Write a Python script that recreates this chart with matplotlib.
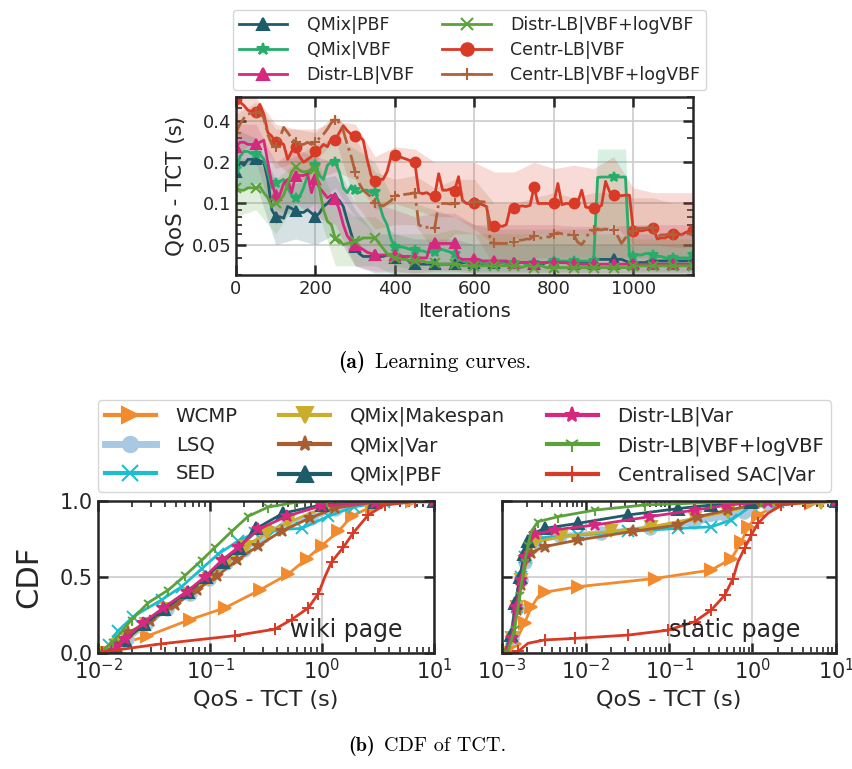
import numpy as np
import matplotlib
matplotlib.use("Agg")
import matplotlib.pyplot as plt
from matplotlib.lines import Line2D
from matplotlib.ticker import NullFormatter, LogLocator, FixedLocator

# ---------------- data: learning curves ----------------
IT = list(range(0, 1151, 10))
BAND_IT = list(range(0, 1151, 50))

QMIX_PBF = [0.17, 0.2, 0.19, 0.21, 0.21, 0.21, 0.205, 0.2, 0.15, 0.09,
            0.08, 0.08, 0.078, 0.095, 0.092, 0.088, 0.086, 0.086, 0.09, 0.085,
            0.08, 0.085, 0.095, 0.1, 0.108, 0.11, 0.105, 0.095, 0.075, 0.06,
            0.048, 0.043, 0.041, 0.041, 0.041, 0.042, 0.041, 0.041, 0.042, 0.042,
            0.04, 0.04, 0.04, 0.039, 0.037, 0.036, 0.036, 0.036, 0.036, 0.036,
            0.036, 0.036, 0.036, 0.036, 0.036, 0.036, 0.037, 0.037, 0.037, 0.037,
            0.037, 0.037, 0.036, 0.036, 0.036, 0.037, 0.037, 0.037, 0.037, 0.037,
            0.037, 0.037, 0.037, 0.037, 0.036, 0.036, 0.036, 0.036, 0.037, 0.037,
            0.037, 0.037, 0.037, 0.037, 0.037, 0.037, 0.037, 0.037, 0.037, 0.038,
            0.038, 0.039, 0.039, 0.039, 0.039, 0.039, 0.039, 0.039, 0.038, 0.037,
            0.037, 0.037, 0.037, 0.037, 0.038, 0.038, 0.038, 0.038, 0.038, 0.038,
            0.038, 0.038, 0.038, 0.038, 0.038, 0.038]
QMIX_VBF = [0.18, 0.22, 0.24, 0.24, 0.23, 0.23, 0.23, 0.21, 0.17, 0.13,
            0.14, 0.145, 0.15, 0.13, 0.115, 0.11, 0.112, 0.13, 0.16, 0.18,
            0.19, 0.16, 0.15, 0.19, 0.2, 0.2, 0.17, 0.13, 0.12, 0.135,
            0.125, 0.12, 0.125, 0.125, 0.12, 0.122, 0.1, 0.08, 0.07, 0.055,
            0.048, 0.048, 0.048, 0.047, 0.046, 0.046, 0.045, 0.045, 0.044, 0.044,
            0.044, 0.046, 0.046, 0.045, 0.044, 0.043, 0.039, 0.038, 0.037, 0.037,
            0.036, 0.036, 0.037, 0.036, 0.036, 0.036, 0.037, 0.037, 0.036, 0.036,
            0.037, 0.037, 0.037, 0.036, 0.037, 0.037, 0.037, 0.037, 0.037, 0.038,
            0.038, 0.038, 0.038, 0.038, 0.038, 0.038, 0.038, 0.038, 0.038, 0.038,
            0.038, 0.155, 0.156, 0.156, 0.156, 0.157, 0.156, 0.156, 0.156, 0.041,
            0.041, 0.042, 0.042, 0.043, 0.043, 0.042, 0.041, 0.041, 0.040, 0.040,
            0.040, 0.040, 0.040, 0.040, 0.040, 0.042]
DISTR_VBF = [0.26, 0.28, 0.28, 0.27, 0.27, 0.27, 0.28, 0.29, 0.2, 0.14,
             0.115, 0.115, 0.14, 0.15, 0.12, 0.16, 0.16, 0.16, 0.165, 0.12,
             0.15, 0.13, 0.12, 0.11, 0.115, 0.108, 0.09, 0.07, 0.058, 0.053,
             0.05, 0.048, 0.046, 0.044, 0.043, 0.042, 0.042, 0.042, 0.042, 0.042,
             0.042, 0.042, 0.041, 0.041, 0.041, 0.04, 0.04, 0.04, 0.04, 0.051,
             0.051, 0.051, 0.051, 0.051, 0.051, 0.051, 0.04, 0.039, 0.039, 0.039,
             0.039, 0.039, 0.038, 0.038, 0.038, 0.038, 0.038, 0.038, 0.038, 0.037,
             0.037, 0.037, 0.037, 0.037, 0.037, 0.037, 0.037, 0.037, 0.037, 0.037,
             0.037, 0.037, 0.037, 0.037, 0.036, 0.036, 0.036, 0.036, 0.036, 0.036,
             0.036, 0.036, 0.036, 0.036, 0.036, 0.036, 0.036, 0.036, 0.036, 0.036,
             0.036, 0.036, 0.036, 0.036, 0.036, 0.036, 0.036, 0.036, 0.036, 0.036,
             0.036, 0.036, 0.036, 0.036, 0.036, 0.036]
DISTR_LOG = [0.13, 0.125, 0.125, 0.13, 0.13, 0.13, 0.133, 0.12, 0.11, 0.095,
             0.1, 0.105, 0.115, 0.14, 0.17, 0.185, 0.175, 0.17, 0.172, 0.178,
             0.18, 0.13, 0.09, 0.074, 0.07, 0.055, 0.054, 0.05, 0.051, 0.052,
             0.053, 0.054, 0.056, 0.056, 0.056, 0.056, 0.051, 0.047, 0.043, 0.041,
             0.04, 0.04, 0.039, 0.039, 0.038, 0.038, 0.038, 0.038, 0.037, 0.037,
             0.037, 0.036, 0.036, 0.036, 0.036, 0.036, 0.036, 0.035, 0.035, 0.035,
             0.035, 0.035, 0.035, 0.035, 0.035, 0.035, 0.035, 0.035, 0.035, 0.035,
             0.035, 0.035, 0.034, 0.035, 0.035, 0.034, 0.035, 0.035, 0.034, 0.034,
             0.034, 0.034, 0.034, 0.034, 0.034, 0.034, 0.034, 0.034, 0.034, 0.034,
             0.034, 0.034, 0.034, 0.034, 0.034, 0.034, 0.034, 0.034, 0.034, 0.034,
             0.035, 0.035, 0.035, 0.035, 0.035, 0.035, 0.035, 0.035, 0.035, 0.035,
             0.035, 0.035, 0.035, 0.035, 0.035, 0.035]
CENTR_VBF = [0.58, 0.55, 0.52, 0.48, 0.47, 0.47, 0.53, 0.45, 0.33, 0.31,
             0.28, 0.28, 0.27, 0.21, 0.24, 0.26, 0.22, 0.20, 0.21, 0.22,
             0.24, 0.25, 0.27, 0.26, 0.30, 0.29, 0.33, 0.37, 0.34, 0.32,
             0.31, 0.31, 0.29, 0.21, 0.16, 0.145, 0.15, 0.15, 0.17, 0.22,
             0.225, 0.22, 0.215, 0.21, 0.205, 0.20, 0.12, 0.118, 0.12, 0.115,
             0.114, 0.165, 0.125, 0.125, 0.128, 0.124, 0.157, 0.105, 0.10, 0.10,
             0.10, 0.10, 0.098, 0.095, 0.07, 0.068, 0.069, 0.068, 0.07, 0.092,
             0.092, 0.095, 0.096, 0.095, 0.097, 0.132, 0.10, 0.10, 0.10, 0.10,
             0.101, 0.14, 0.098, 0.10, 0.10, 0.101, 0.102, 0.125, 0.094, 0.093,
             0.093, 0.093, 0.097, 0.145, 0.122, 0.116, 0.114, 0.114, 0.115, 0.115,
             0.063, 0.064, 0.063, 0.064, 0.065, 0.066, 0.055, 0.056, 0.056, 0.058,
             0.06, 0.061, 0.059, 0.061, 0.063, 0.064]
CENTR_LOG = [0.33, 0.38, 0.42, 0.45, 0.46, 0.46, 0.47, 0.42, 0.32, 0.27,
             0.26, 0.30, 0.36, 0.33, 0.30, 0.28, 0.27, 0.27, 0.28, 0.27,
             0.28, 0.30, 0.32, 0.35, 0.39, 0.41, 0.39, 0.34, 0.27, 0.22,
             0.17, 0.14, 0.125, 0.118, 0.112, 0.10, 0.098, 0.096, 0.10, 0.105,
             0.114, 0.115, 0.116, 0.117, 0.118, 0.12, 0.07, 0.067, 0.067, 0.067,
             0.066, 0.10, 0.10, 0.10, 0.099, 0.10, 0.10, 0.106, 0.10, 0.102,
             0.103, 0.103, 0.103, 0.102, 0.052, 0.051, 0.051, 0.051, 0.051, 0.052,
             0.052, 0.054, 0.054, 0.055, 0.055, 0.058, 0.056, 0.056, 0.057, 0.057,
             0.06, 0.061, 0.06, 0.059, 0.059, 0.059, 0.052, 0.05, 0.055, 0.063,
             0.064, 0.065, 0.064, 0.065, 0.064, 0.064, 0.058, 0.051, 0.056, 0.06,
             0.063, 0.066, 0.066, 0.066, 0.067, 0.066, 0.057, 0.059, 0.059, 0.06,
             0.059, 0.06, 0.059, 0.06, 0.06, 0.06]

QMIX_PBF_HI = [0.35, 0.3, 0.15, 0.14, 0.15, 0.16, 0.09, 0.06, 0.06, 0.055, 0.055, 0.055,
               0.05, 0.05, 0.05, 0.05, 0.05, 0.05, 0.05, 0.05, 0.05, 0.05, 0.05, 0.05]
QMIX_PBF_LO = [0.12, 0.14, 0.05, 0.055, 0.05, 0.06, 0.035, 0.031, 0.031, 0.031, 0.031, 0.031,
               0.031, 0.031, 0.031, 0.031, 0.031, 0.031, 0.031, 0.031, 0.031, 0.031, 0.031, 0.031]
QMIX_VBF_BAND_IT = [0, 50, 100, 150, 200, 250, 300, 350, 400, 450, 500, 550, 600, 650,
                    700, 750, 800, 850, 900, 910, 980, 990, 1000, 1050, 1100, 1150]
QMIX_VBF_HI = [0.3, 0.3, 0.2, 0.22, 0.27, 0.3, 0.25, 0.2, 0.1, 0.1, 0.09, 0.08, 0.07, 0.065,
               0.065, 0.065, 0.065, 0.065, 0.065, 0.25, 0.25, 0.06, 0.06, 0.06, 0.06, 0.06]
QMIX_VBF_LO = [0.12, 0.14, 0.09, 0.08, 0.1, 0.13, 0.08, 0.06, 0.035, 0.033, 0.033, 0.033, 0.032,
               0.032, 0.032, 0.032, 0.032, 0.032, 0.032, 0.04, 0.04, 0.032, 0.032, 0.032, 0.032, 0.032]
DISTR_VBF_HI = [0.38, 0.38, 0.2, 0.25, 0.22, 0.2, 0.1, 0.1, 0.09, 0.08, 0.085, 0.085,
                0.07, 0.07, 0.07, 0.07, 0.07, 0.068, 0.068, 0.068, 0.07, 0.07, 0.07, 0.07]
DISTR_VBF_LO = [0.18, 0.2, 0.07, 0.1, 0.08, 0.07, 0.035, 0.032, 0.032, 0.031, 0.032, 0.032,
                0.031, 0.031, 0.031, 0.031, 0.031, 0.031, 0.031, 0.031, 0.031, 0.031, 0.031, 0.031]
DISTR_LOG_HI = [0.22, 0.2, 0.15, 0.2, 0.22, 0.1, 0.08, 0.08, 0.06, 0.06, 0.06, 0.065,
                0.06, 0.06, 0.06, 0.06, 0.06, 0.06, 0.06, 0.06, 0.055, 0.055, 0.055, 0.055]
DISTR_LOG_LO = [0.08, 0.09, 0.06, 0.1, 0.1, 0.035, 0.035, 0.035, 0.03, 0.03, 0.03, 0.03,
                0.03, 0.03, 0.03, 0.03, 0.03, 0.03, 0.03, 0.03, 0.03, 0.03, 0.03, 0.03]
CENTR_VBF_HI = [0.6, 0.6, 0.38, 0.35, 0.35, 0.4, 0.38, 0.22, 0.26, 0.25, 0.2, 0.2,
                0.2, 0.17, 0.17, 0.2, 0.18, 0.19, 0.18, 0.22, 0.13, 0.12, 0.12, 0.12]
CENTR_VBF_LO = [0.3, 0.3, 0.2, 0.15, 0.15, 0.17, 0.15, 0.09, 0.1, 0.09, 0.08, 0.08,
                0.065, 0.05, 0.055, 0.06, 0.06, 0.06, 0.06, 0.07, 0.05, 0.05, 0.048, 0.048]
CENTR_LOG_HI = [0.45, 0.55, 0.35, 0.35, 0.33, 0.45, 0.3, 0.17, 0.15, 0.16, 0.13, 0.15,
                0.15, 0.1, 0.1, 0.11, 0.12, 0.11, 0.12, 0.12, 0.11, 0.11, 0.1, 0.1]
CENTR_LOG_LO = [0.22, 0.3, 0.18, 0.2, 0.2, 0.3, 0.1, 0.065, 0.07, 0.07, 0.045, 0.06,
                0.06, 0.035, 0.035, 0.04, 0.04, 0.04, 0.04, 0.04, 0.04, 0.04, 0.04, 0.04]

# ---------------- data: CDFs (wiki page) ----------------
W_WCMP_X = [0.01, 0.0125, 0.0159, 0.0272, 0.0663, 0.136, 0.28, 0.5, 0.73, 0.99, 1.4, 1.84, 2.77, 6.3, 10]
W_WCMP_Y = [0, 0.02, 0.06, 0.11, 0.22, 0.297, 0.415, 0.52, 0.62, 0.705, 0.8, 0.9, 0.963, 0.998, 1]
W_LSQ_X = [0.01, 0.012, 0.015, 0.018, 0.027, 0.041, 0.066, 0.097, 0.14, 0.2, 0.3, 0.5, 0.8, 1.3, 3.0, 10]
W_LSQ_Y = [0, 0.02, 0.06, 0.09, 0.19, 0.29, 0.39, 0.49, 0.59, 0.68, 0.77, 0.86, 0.89, 0.95, 0.995, 1]
W_SED_X = [0.01, 0.0125, 0.0151, 0.0207, 0.037, 0.0559, 0.0843, 0.119, 0.179, 0.252, 0.38, 0.66, 1.14, 1.95, 3.6, 10]
W_SED_Y = [0, 0.05, 0.146, 0.24, 0.35, 0.437, 0.555, 0.652, 0.738, 0.79, 0.81, 0.82, 0.9, 0.963, 0.995, 1]
W_MAKE_X = [0.01, 0.012, 0.015, 0.018, 0.027, 0.041, 0.066, 0.097, 0.14, 0.21, 0.32, 0.5, 1.0, 2.5, 10]
W_MAKE_Y = [0, 0.02, 0.05, 0.09, 0.19, 0.29, 0.39, 0.49, 0.59, 0.7, 0.79, 0.86, 0.95, 0.99, 1]
W_QVAR_X = [0.01, 0.012, 0.0145, 0.0187, 0.029, 0.0487, 0.076, 0.115, 0.173, 0.27, 0.436, 0.78, 1.31, 2.77, 10]
W_QVAR_Y = [0, 0.015, 0.05, 0.135, 0.21, 0.318, 0.415, 0.505, 0.609, 0.705, 0.802, 0.888, 0.953, 0.99, 1]
W_PBF_X = [0.01, 0.012, 0.0145, 0.0175, 0.026, 0.039, 0.063, 0.092, 0.13, 0.18, 0.26, 0.45, 1.0, 3.0, 10]
W_PBF_Y = [0, 0.01, 0.04, 0.085, 0.19, 0.29, 0.40, 0.50, 0.60, 0.69, 0.82, 0.92, 0.975, 0.995, 1]
W_DVAR_X = [0.01, 0.012, 0.0145, 0.0174, 0.0254, 0.0383, 0.0619, 0.0902, 0.127, 0.179, 0.27, 0.484, 1.0, 2.97, 10]
W_DVAR_Y = [0, 0.01, 0.04, 0.092, 0.2, 0.297, 0.404, 0.501, 0.609, 0.695, 0.813, 0.9, 0.97, 0.99, 1]
W_DLOG_X = [0.01, 0.0115, 0.0135, 0.0156, 0.02, 0.028, 0.0425, 0.06, 0.084, 0.111, 0.156, 0.22, 0.33, 0.57, 1.1, 10]
W_DLOG_Y = [0, 0.03, 0.07, 0.125, 0.22, 0.33, 0.415, 0.51, 0.61, 0.695, 0.80, 0.90, 0.96, 0.99, 1.0, 1.0]
W_SAC_X = [0.01, 0.0108, 0.0363, 0.167, 0.38, 0.536, 0.755, 0.927, 1.06, 1.22, 1.55, 1.9, 2.6, 3.65, 6.8, 10]
W_SAC_Y = [0, 0.006, 0.06, 0.114, 0.157, 0.22, 0.297, 0.39, 0.5, 0.6, 0.695, 0.79, 0.91, 0.974, 0.996, 1]

# ---------------- data: CDFs (static page) ----------------
S_WCMP_X = [0.001, 0.00124, 0.00142, 0.00163, 0.00187, 0.00224, 0.0027, 0.00324, 0.0081, 0.0673,
            0.321, 0.558, 0.735, 0.883, 1.16, 2.02, 5.07, 10]
S_WCMP_Y = [0, 0.01, 0.06, 0.13, 0.2, 0.3, 0.37, 0.4, 0.436, 0.49, 0.546, 0.62, 0.73, 0.83, 0.908,
            0.974, 0.99, 1]
S_LSQ_X = [0.001, 0.0011, 0.0013, 0.0015, 0.0017, 0.0019, 0.00215, 0.0025, 0.005, 0.0155, 0.06,
           0.2, 0.5, 0.8, 1.5, 10]
S_LSQ_Y = [0, 0.02, 0.1, 0.3, 0.48, 0.6, 0.68, 0.74, 0.77, 0.79, 0.82, 0.86, 0.9, 0.93, 0.99, 1]
S_SED_X = [0.001, 0.0011, 0.0013, 0.0015, 0.0017, 0.0019, 0.00215, 0.00246, 0.0081, 0.0323, 0.128,
           0.321, 0.558, 0.735, 0.97, 2.02, 10]
S_SED_Y = [0, 0.02, 0.1, 0.3, 0.5, 0.63, 0.72, 0.755, 0.776, 0.8, 0.82, 0.83, 0.875, 0.92, 0.974,
           0.995, 1]
S_MAKE_X = [0.001, 0.0011, 0.0013, 0.0015, 0.0017, 0.0019, 0.00215, 0.00246, 0.00514, 0.0204,
            0.0614, 0.203, 0.509, 1.06, 6.7, 10]
S_MAKE_Y = [0, 0.02, 0.1, 0.3, 0.48, 0.6, 0.68, 0.73, 0.765, 0.8, 0.83, 0.886, 0.93, 0.974, 0.99, 1]
S_QVAR_X = [0.001, 0.0011, 0.0013, 0.0015, 0.0017, 0.0019, 0.0022, 0.00324, 0.0081, 0.0371, 0.128,
            0.222, 0.509, 1.28, 10]
S_QVAR_Y = [0, 0.02, 0.1, 0.28, 0.45, 0.58, 0.66, 0.70, 0.743, 0.8, 0.842, 0.897, 0.94, 0.985, 1]
S_PBF_X = [0.001, 0.0011, 0.00129, 0.00145, 0.00163, 0.00185, 0.00205, 0.00246, 0.00324, 0.0081,
           0.0323, 0.128, 0.321, 0.97, 10]
S_PBF_Y = [0, 0.01, 0.12, 0.33, 0.5, 0.65, 0.74, 0.79, 0.82, 0.853, 0.908, 0.95, 0.974, 0.995, 1]
S_DVAR_X = [0.001, 0.0011, 0.0013, 0.00148, 0.00168, 0.0019, 0.0021, 0.0025, 0.00428, 0.0129,
            0.0586, 0.203, 0.509, 1.53, 10]
S_DVAR_Y = [0, 0.01, 0.1, 0.3, 0.48, 0.63, 0.72, 0.78, 0.81, 0.842, 0.897, 0.94, 0.974, 0.995, 1]
S_DLOG_X = [0.001, 0.00118, 0.00142, 0.00163, 0.00187, 0.00205, 0.00224, 0.0027, 0.0047, 0.0129,
            0.0512, 0.321, 1.28, 10]
S_DLOG_Y = [0, 0.01, 0.16, 0.38, 0.6, 0.71, 0.8, 0.864, 0.897, 0.94, 0.974, 0.99, 1.0, 1.0]
S_SAC_X = [0.001, 0.00125, 0.00156, 0.00205, 0.00324, 0.0074, 0.0323, 0.0973, 0.203, 0.321, 0.465,
           0.585, 0.67, 0.805, 0.97, 1.16, 1.53, 2.22, 4.2, 10]
S_SAC_Y = [0, 0.0, 0.01, 0.064, 0.086, 0.096, 0.118, 0.15, 0.206, 0.283, 0.38, 0.49, 0.6, 0.69,
           0.776, 0.853, 0.919, 0.974, 0.99, 1]

# ---------------- style ----------------
TXT = "#262626"
plt.rcParams.update({
    "font.family": ["DejaVu Sans"],
    "text.color": TXT, "axes.labelcolor": TXT,
    "xtick.color": TXT, "ytick.color": TXT,
    "axes.edgecolor": TXT, "axes.linewidth": 1.8,
})

C_PBF = "#1f5c6b"
C_QVBF = "#27ad6a"
C_MAG = "#d6287f"
C_LOG = "#5ba23a"
C_RED = "#d93a26"
C_BRN = "#b0613a"
C_WCMP = "#f28a2e"
C_LSQ = "#a8c9e1"
C_SED = "#1dbdd0"
C_MAKE = "#c9ad2b"
C_QVAR = "#a85e30"

fig = plt.figure(figsize=(8.53, 7.69), dpi=100)


def style_axes(ax, fs):
    ax.tick_params(which="both", direction="in", top=True, right=True, labelsize=fs)
    ax.tick_params(which="major", length=7, width=1.8)
    ax.tick_params(which="minor", length=4, width=1.2)
    ax.grid(True, which="major", color="#cccccc", lw=1.2)
    ax.set_axisbelow(True)


def caption(xc_px, ybase_px, bold, rest, fs):
    r = fig.canvas.get_renderer()
    y = 1 - ybase_px / 769
    t1 = fig.text(0, y, bold, family="cmb10", fontsize=fs, va="baseline", ha="left", color="black")
    t2 = fig.text(0, y, rest, family="cmr10", fontsize=fs, va="baseline", ha="left", color="black")
    W = fig.bbox.width
    w1 = t1.get_window_extent(r).width / W
    w2 = t2.get_window_extent(r).width / W
    gap = 0.45 * fs * fig.dpi / 72 / W
    x0 = xc_px / 853 - (w1 + gap + w2) / 2
    t1.set_x(x0)
    t2.set_x(x0 + w1 + gap)


# ---------------- top: learning curves ----------------
ax = fig.add_axes([236 / 853, 1 - 275 / 769, 457 / 853, 178 / 769])
ax.set_yscale("log")

series = [
    ("QMix|PBF", QMIX_PBF, BAND_IT, QMIX_PBF_LO, QMIX_PBF_HI, C_PBF, "^", "-"),
    ("QMix|VBF", QMIX_VBF, QMIX_VBF_BAND_IT, QMIX_VBF_LO, QMIX_VBF_HI, C_QVBF, "*", "-"),
    ("Distr-LB|VBF", DISTR_VBF, BAND_IT, DISTR_VBF_LO, DISTR_VBF_HI, C_MAG, "^", "-"),
    ("Distr-LB|VBF+logVBF", DISTR_LOG, BAND_IT, DISTR_LOG_LO, DISTR_LOG_HI, C_LOG, "x", "-"),
    ("Centr-LB|VBF", CENTR_VBF, BAND_IT, CENTR_VBF_LO, CENTR_VBF_HI, C_RED, "o", "-"),
    ("Centr-LB|VBF+logVBF", CENTR_LOG, BAND_IT, CENTR_LOG_LO, CENTR_LOG_HI, C_BRN, "+", "-."),
]
handles = []
for name, vals, bx, lo, hi, col, mk, ls in series:
    ax.fill_between(bx, lo, hi, color=col, alpha=0.18, lw=0)
for name, vals, bx, lo, hi, col, mk, ls in series:
    ax.plot(IT, vals, color=col, lw=2, ls=ls, marker=mk, markevery=5, ms=7, mew=1.5)
    handles.append(Line2D([], [], color=col, lw=2, marker=mk, ms=9, mew=1.5, label=name))

ax.set_xlim(0, 1150)
ax.set_ylim(0.03, 0.6)
ax.set_xticks([0, 200, 400, 600, 800, 1000])
ax.yaxis.set_major_locator(FixedLocator([0.05, 0.1, 0.2, 0.4]))
ax.set_yticklabels(["0.05", "0.1", "0.2", "0.4"])
ax.yaxis.set_minor_locator(LogLocator(base=10, subs=np.arange(2, 10)))
ax.yaxis.set_minor_formatter(NullFormatter())
style_axes(ax, 13)
ax.set_xlabel("Iterations", fontsize=14, labelpad=3)
ax.set_ylabel("QoS - TCT (s)", fontsize=15.5, labelpad=4)

fig.legend(handles=handles, ncol=2, loc="upper center", bbox_to_anchor=(469.5 / 853, 1 - 1 / 769),
           fontsize=12.5, frameon=True, edgecolor="#cccccc", handlelength=2.8, columnspacing=1.6,
           borderpad=0.35, labelspacing=0.42, handletextpad=1.1)

caption(435, 368, "(a)", "Learning curves.", 15.5)

# ---------------- bottom: CDFs ----------------
cdf_series = [
    ("WCMP", W_WCMP_X, W_WCMP_Y, S_WCMP_X, S_WCMP_Y, C_WCMP, ">", 2.0),
    ("LSQ", W_LSQ_X, W_LSQ_Y, S_LSQ_X, S_LSQ_Y, C_LSQ, "o", 4.0),
    ("SED", W_SED_X, W_SED_Y, S_SED_X, S_SED_Y, C_SED, "x", 2.0),
    ("QMix|Makespan", W_MAKE_X, W_MAKE_Y, S_MAKE_X, S_MAKE_Y, C_MAKE, "v", 2.0),
    ("QMix|Var", W_QVAR_X, W_QVAR_Y, S_QVAR_X, S_QVAR_Y, C_QVAR, "*", 2.0),
    ("QMix|PBF", W_PBF_X, W_PBF_Y, S_PBF_X, S_PBF_Y, C_PBF, "^", 2.0),
    ("Distr-LB|Var", W_DVAR_X, W_DVAR_Y, S_DVAR_X, S_DVAR_Y, C_MAG, "*", 2.0),
    ("Distr-LB|VBF+logVBF", W_DLOG_X, W_DLOG_Y, S_DLOG_X, S_DLOG_Y, C_LOG, "1", 2.0),
    ("Centralised SAC|Var", W_SAC_X, W_SAC_Y, S_SAC_X, S_SAC_Y, C_RED, "+", 2.0),
]

axw = fig.add_axes([98 / 853, 1 - 653 / 769, 336 / 853, 152 / 769])
axs = fig.add_axes([502 / 853, 1 - 653 / 769, 334 / 853, 152 / 769])

bh = []
for name, wx, wy, sx, sy, col, mk, lw in cdf_series:
    ms = 9 if mk in ("*", ">", "v", "^", "o") else 8
    axw.plot(wx, wy, color=col, lw=lw, marker=mk, markevery=0.055, ms=ms, mew=1.4)
    axs.plot(sx, sy, color=col, lw=lw, marker=mk, markevery=0.055, ms=ms, mew=1.4)
    bh.append(Line2D([], [], color=col, lw=lw + 1, marker=mk, ms=11, mew=1.5, label=name))

for a, lo in ((axw, 1e-2), (axs, 1e-3)):
    a.set_xscale("log")
    a.set_xlim(lo, 10)
    a.set_ylim(0, 1)
    a.set_yticks([0, 0.5, 1.0])
    a.xaxis.set_minor_locator(LogLocator(base=10, subs=np.arange(2, 10), numticks=20))
    a.xaxis.set_minor_formatter(NullFormatter())
    style_axes(a, 15)
    a.set_xlabel("QoS - TCT (s)", fontsize=16, labelpad=5)
axw.set_yticklabels(["0.0", "0.5", "1.0"])
axs.set_yticklabels([])
axw.set_ylabel("CDF", fontsize=22, labelpad=12)
axw.text(0.57, 0.15, "wiki page", transform=axw.transAxes, fontsize=17, ha="left", va="center")
axs.text(0.5, 0.15, "static page", transform=axs.transAxes, fontsize=17, ha="left", va="center")

fig.legend(handles=bh, ncol=3, loc="upper center", bbox_to_anchor=(464.5 / 853, 1 - 390 / 769),
           fontsize=14.2, frameon=True, edgecolor="#cccccc", handlelength=2.6, columnspacing=2.1,
           borderpad=0.35, labelspacing=0.5, handletextpad=1.0)

caption(427, 751, "(b)", "CDF of TCT.", 14.5)

fig.savefig("out.png", dpi=100)
